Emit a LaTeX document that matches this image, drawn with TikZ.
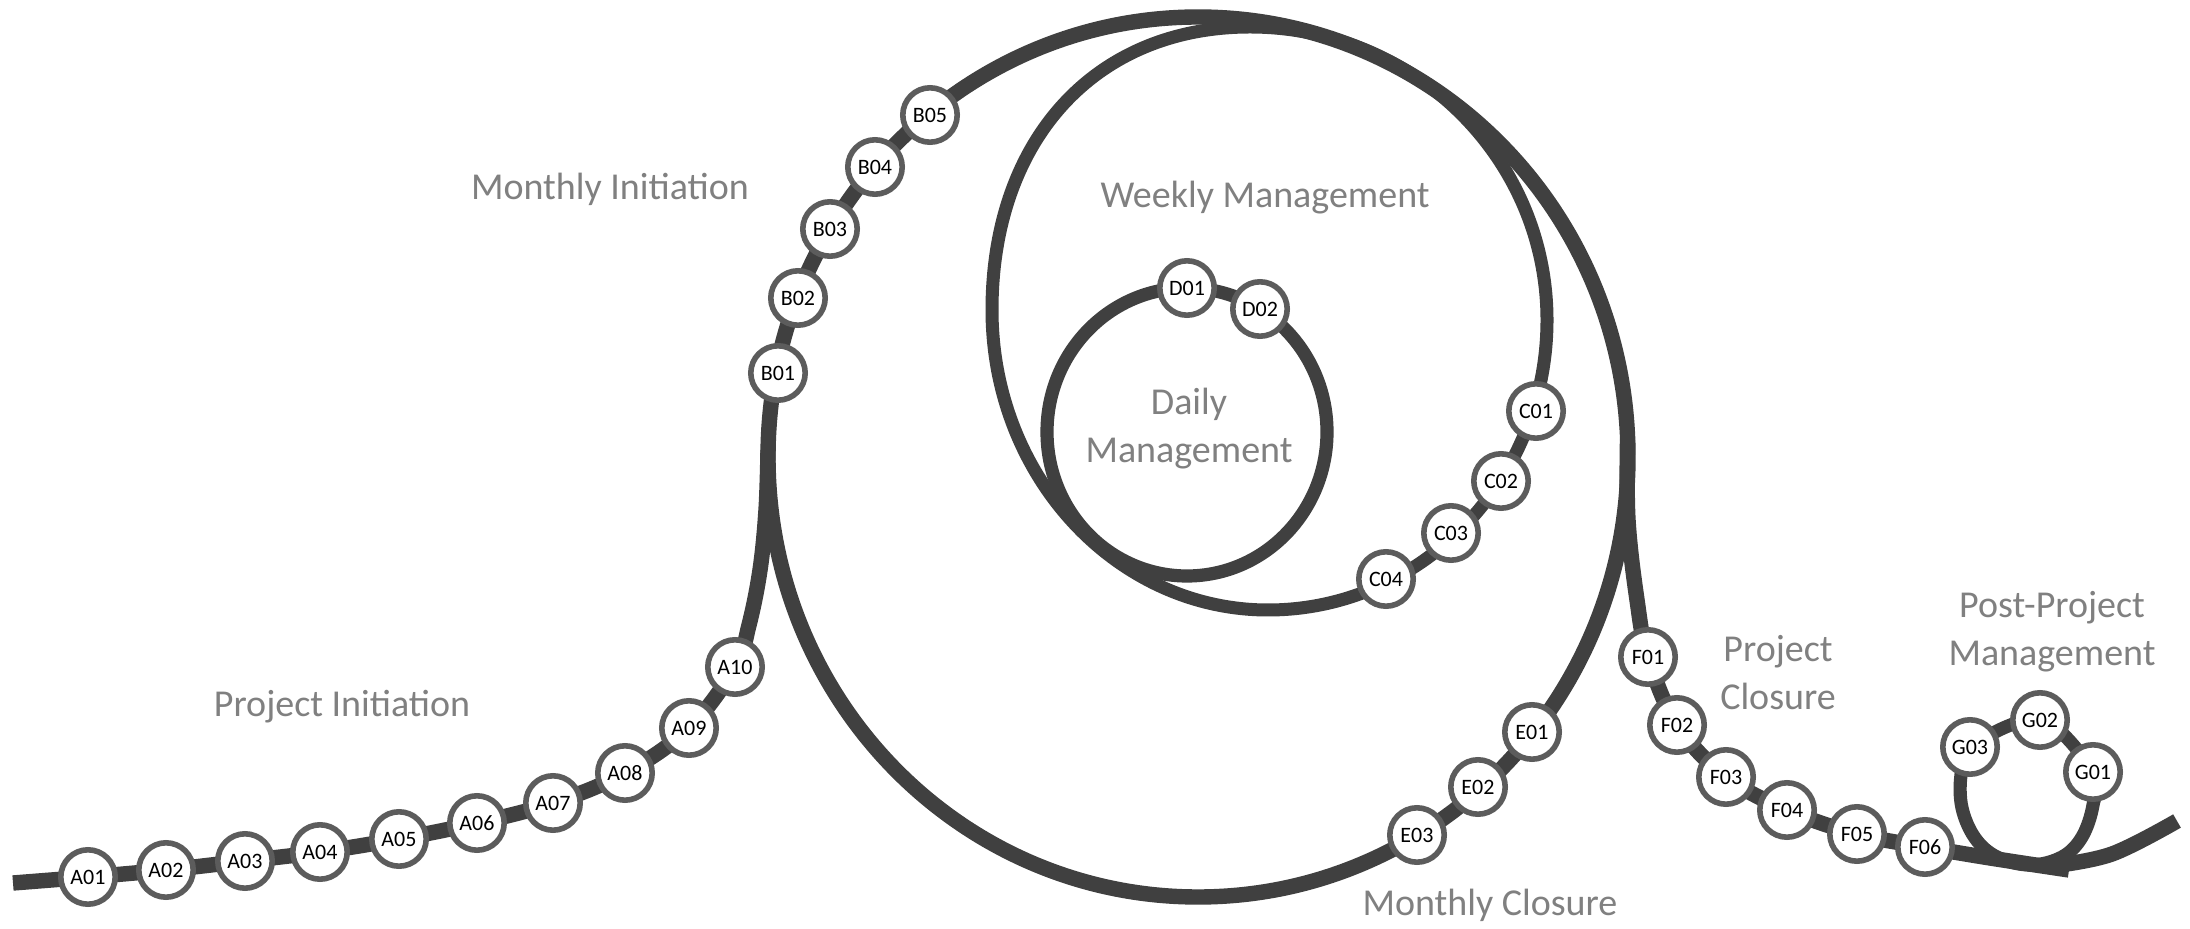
\documentclass[tikz,border=0pt]{standalone}
\usepackage{fontspec}
\setmainfont{Carlito}
\usetikzlibrary{backgrounds}
\definecolor{trackc}{RGB}{64,64,64}
\definecolor{ringc}{RGB}{92,92,92}
\definecolor{labc}{RGB}{128,128,128}
\begin{document}
\begin{tikzpicture}[x=0.5pt,y=-0.5pt,
  stn/.style={circle, draw=ringc, fill=white, line width=2.8pt, minimum size=27.2pt, inner sep=0pt, font=\fontsize{11}{11}\selectfont, text=black},
  lbl/.style={text=labc, font=\fontsize{19}{24}\selectfont, align=center, inner sep=0pt},
  track/.style={draw=trackc, line width=7.7pt, line cap=butt, line join=round},
  weekl/.style={draw=trackc, line width=6.5pt, line cap=butt, line join=round},
  dayl/.style={draw=trackc, line width=6.6pt},
  loopl/.style={draw=trackc, line width=6.6pt, line cap=butt}
]
\useasboundingbox (0,0) rectangle (2190,929);
% stations
\node[stn] (A01) at (88,877) {A01};
\node[stn] (A02) at (166,870) {A02};
\node[stn] (A03) at (245,861) {A03};
\node[stn] (A04) at (320,852) {A04};
\node[stn] (A05) at (399,839) {A05};
\node[stn] (A06) at (477,823) {A06};
\node[stn] (A07) at (553,803) {A07};
\node[stn] (A08) at (625,773) {A08};
\node[stn] (A09) at (689,728) {A09};
\node[stn] (A10) at (735,667) {A10};
\node[stn] (B01) at (778,373) {B01};
\node[stn] (B02) at (798,298) {B02};
\node[stn] (B03) at (830,229) {B03};
\node[stn] (B04) at (875,167) {B04};
\node[stn] (B05) at (930,115) {B05};
\node[stn] (D01) at (1187,288) {D01};
\node[stn] (D02) at (1260,309) {D02};
\node[stn] (C01) at (1536,411) {C01};
\node[stn] (C02) at (1501,481) {C02};
\node[stn] (C03) at (1451,533) {C03};
\node[stn] (C04) at (1386,579) {C04};
\node[stn] (E01) at (1532,732) {E01};
\node[stn] (E02) at (1478,787) {E02};
\node[stn] (E03) at (1417,835) {E03};
\node[stn] (F01) at (1648,657) {F01};
\node[stn] (F02) at (1677,725) {F02};
\node[stn] (F03) at (1726,777) {F03};
\node[stn] (F04) at (1787,810) {F04};
\node[stn] (F05) at (1857,834) {F05};
\node[stn] (F06) at (1925,847) {F06};
\node[stn] (G01) at (2093,772) {G01};
\node[stn] (G02) at (2040,720) {G02};
\node[stn] (G03) at (1970,747) {G03};
% labels
\node[lbl, anchor=base] (lMI) at (610,200) {Monthly Initiation};
\node[lbl, anchor=base] (lWM) at (1265,208) {Weekly Management};
\node[lbl] (lDM) at (1189,429) {Daily\\Management};
\node[lbl, anchor=base] (lPI) at (342,717) {Project Initiation};
\node[lbl, anchor=base] (lMC) at (1490,915) {Monthly Closure};
\node[lbl] (lPC) at (1778,673) {Project\\Closure};
\node[lbl] (lPP) at (2052,632) {Post-Project\\Management};
% tracks
\begin{pgfonlayer}{background}
\fill[white] (0,0) rectangle (2190,929);
\coordinate (mc) at (1198,457);
\coordinate (dc) at (1187,432);
\coordinate (wT) at (1250,27);
\coordinate (wL) at (992,310);
\coordinate (wB) at (1268,610);
\coordinate (wR) at (1547,320);
% monthly loop
\draw[track] (mc) ellipse [x radius=215pt, y radius=220pt];
% main line
\draw[track] plot[smooth, tension=0.6] coordinates {(13,883) (A01.center) (A02.center) (A03.center) (A04.center) (A05.center) (A06.center) (A07.center) (A08.center) (A09.center) (A10.center) (749,625) (760,570) (766,510) (768,450)};
% weekly loop
\draw[weekl] (wT) .. controls (1095,27) and (992,140) .. (wL)
  .. controls (992,476) and (1116,610) .. (wB)
  .. controls (1422,610) and (1547,480) .. (wR)
  .. controls (1547,158) and (1414,27) .. (wT) -- cycle;
% daily loop
\draw[dayl] (dc) ellipse [x radius=70pt, y radius=72pt];
% project closure branch
\draw[track] plot[smooth, tension=0.6] coordinates {(1627.5,440) (1628,520) (1637,600) (F01.center) (F02.center) (F03.center) (F04.center) (F05.center) (F06.center) (1990,858) (2069,870)};
% post-project loop
\draw[loopl] plot[smooth cycle, tension=0.6] coordinates {(G03.center) (G02.center) (G01.center) (2093,805) (2082,837) (2062,857) (2030,865) (1997,857) (1975,838) (1962,808) (1961,775)};
\draw[track] plot[smooth, tension=0.6] coordinates {(2052,866) (2112,854) (2177,821)};
\end{pgfonlayer}
\end{tikzpicture}
\end{document}
